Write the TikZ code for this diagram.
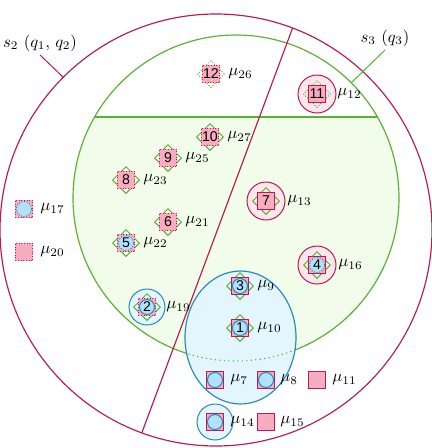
\documentclass[tikz,border=0pt]{standalone}
\usepackage{fontspec}
\newfontfamily\numfont{Liberation Sans}
\usetikzlibrary{shapes.geometric}
\definecolor{crim}{RGB}{185,28,82}
\definecolor{pinkf}{RGB}{248,172,192}
\definecolor{pinkl}{RGB}{253,230,236}
\definecolor{grn}{RGB}{88,178,48}
\definecolor{grnf}{RGB}{241,252,234}
\definecolor{blu}{RGB}{38,138,190}
\definecolor{bluf}{RGB}{178,226,250}
\definecolor{blul}{RGB}{228,246,253}
\begin{document}
\begin{tikzpicture}[x=0.6pt,y=-0.6pt,
  sq/.style={draw=crim, fill=pinkf, minimum size=10.5pt, inner sep=0pt, line width=0.6pt},
  sqd/.style={sq, densely dotted},
  dia/.style={diamond, draw=grn, minimum size=16.2pt, inner sep=0pt, line width=0.6pt},
  diad/.style={dia, densely dotted},
  cir/.style={circle, draw=blu, fill=bluf, minimum size=9pt, inner sep=0pt, line width=0.6pt},
  cird/.style={cir, densely dotted},
  ring/.style={circle, draw=crim, fill=pinkl, minimum size=22.8pt, inner sep=0pt, line width=0.6pt},
  bring/.style={circle, draw=blu, fill=blul, minimum size=21.6pt, inner sep=0pt, line width=0.6pt},
  num/.style={font=\numfont\fontsize{8.5}{9}\selectfont, inner sep=0pt},
  lab/.style={anchor=west, inner sep=0pt, font=\fontsize{10}{12}\selectfont},
  big/.style={line width=0.7pt}
]
\useasboundingbox (0,0) rectangle (431,448);
% green region below the chord
\begin{scope}
  \clip (0,117) rectangle (431,448);
  \fill[grnf] (236,198) circle [radius=97.8pt];
\end{scope}
% outer crimson circle
\draw[crim,big] (216,230) circle [radius=129.6pt];
% green circle and chord
\draw[grn,big] (236,198) circle [radius=97.8pt];
\draw[grn,big] (94.55,117) -- (377.45,117);
% crimson dividing line
\draw[crim,big] (292.6,28.0) -- (141.8,432.9);
% blue ellipse
\fill[blul] (240.5,337.5) ellipse [x radius=33.3pt, y radius=39.9pt];
\begin{scope}
  \clip (240.5,337.5) ellipse [x radius=33.3pt, y radius=39.9pt];
  \draw[grn,big,dotted] (236,198) circle [radius=97.8pt];
\end{scope}
\draw[blu,big] (240.5,337.5) ellipse [x radius=33.3pt, y radius=39.9pt];
% region labels
\node[font=\fontsize{10}{12}\selectfont] (s2lab) at (40,43) {$s_2\ (q_1,\, q_2)$};
\coordinate (s2a) at (40,55);
\coordinate (s2b) at (63.3,77.3);
\draw[crim,line width=0.6pt] (s2a) -- (s2b);
\node[font=\fontsize{10}{12}\selectfont] (s3lab) at (385,38) {$s_3\ (q_3)$};
\coordinate (s3a) at (385,50);
\coordinate (s3b) at (351.3,82.7);
\draw[grn,line width=0.6pt] (s3a) -- (s3b);
% rings
\node[bring] (r2) at (147,307) {};
\node[bring] (r14) at (215,422) {};
\node[ring] (r4) at (317,265) {};
\node[ring] (r7) at (266,201) {};
\node[ring] (r11) at (317,94) {};
% node 1
\node[dia] (d1) at (240,328) {};
\node[sq] (q1) at (240,328) {};
\node[cir] (c1) at (240,328) {};
\node[num] (n1) at (240,328) {1};
\node[lab] (l1) at (257,328) {$\mu_{10}$};
% node 3
\node[dia] (d3) at (240,286) {};
\node[sq] (q3) at (240,286) {};
\node[cir] (c3) at (240,286) {};
\node[num] (n3) at (240,286) {3};
\node[lab] (l3) at (257,286) {$\mu_{9}$};
% node 2
\node[dia] (d2) at (147,307) {};
\node[sqd] (q2) at (147,307) {};
\node[cir] (c2) at (147,307) {};
\node[num] (n2) at (147,307) {2};
\node[lab] (l2) at (166,307) {$\mu_{19}$};
% node 4
\node[dia] (d4) at (317,265) {};
\node[sq] (q4) at (317,265) {};
\node[cird] (c4) at (317,265) {};
\node[num] (n4) at (317,265) {4};
\node[lab] (l4) at (338,265) {$\mu_{16}$};
% node 5
\node[dia] (d5) at (126,243) {};
\node[sqd] (q5) at (126,243) {};
\node[cird] (c5) at (126,243) {};
\node[num] (n5) at (126,243) {5};
\node[lab] (l5) at (143,243) {$\mu_{22}$};
% node 6
\node[dia] (d6) at (168,222) {};
\node[sqd] (q6) at (168,222) {};
\node[num] (n6) at (168,222) {6};
\node[lab] (l6) at (185,222) {$\mu_{21}$};
% node 7
\node[dia] (d7) at (266,201) {};
\node[sq] (q7) at (266,201) {};
\node[num] (n7) at (266,201) {7};
\node[lab] (l7) at (287,201) {$\mu_{13}$};
% node 8
\node[dia] (d8) at (126,180) {};
\node[sqd] (q8) at (126,180) {};
\node[num] (n8) at (126,180) {8};
\node[lab] (l8) at (143,180) {$\mu_{23}$};
% node 9
\node[dia] (d9) at (168,158) {};
\node[sqd] (q9) at (168,158) {};
\node[num] (n9) at (168,158) {9};
\node[lab] (l9) at (185,158) {$\mu_{25}$};
% node 10
\node[dia] (d10) at (210,137) {};
\node[sqd] (q10) at (210,137) {};
\node[num] (n10) at (210,137) {10};
\node[lab] (l10) at (227,137) {$\mu_{27}$};
% node 11
\node[diad] (d11) at (317,94) {};
\node[sq] (q11) at (317,94) {};
\node[num] (n11) at (317,94) {11};
\node[lab] (l11) at (337,94) {$\mu_{12}$};
% node 12
\node[diad] (d12) at (211,74) {};
\node[sqd] (q12) at (211,74) {};
\node[num] (n12) at (211,74) {12};
\node[lab] (l12) at (228,74) {$\mu_{26}$};
% legend-like standalone markers
\node[sqd] (q17) at (24,209) {};
\node[cird] (c17) at (24,209) {};
\node[lab] (l17) at (40,209) {$\mu_{17}$};
\node[sqd] (q20) at (24,252) {};
\node[lab] (l20) at (40,252) {$\mu_{20}$};
\node[sq] (q7b) at (215,380) {};
\node[cir] (c7b) at (215,380) {};
\node[lab] (l7b) at (230,380) {$\mu_{7}$};
\node[sq] (q8b) at (266,380) {};
\node[cir] (c8b) at (266,380) {};
\node[lab] (l8b) at (280,380) {$\mu_{8}$};
\node[sq] (q11b) at (317,380) {};
\node[lab] (l11b) at (332,380) {$\mu_{11}$};
\node[sq] (q14) at (215,422) {};
\node[cir] (c14) at (215,422) {};
\node[lab] (l14) at (230,422) {$\mu_{14}$};
\node[sq] (q15) at (266,422) {};
\node[lab] (l15) at (280,422) {$\mu_{15}$};
\end{tikzpicture}
\end{document}
